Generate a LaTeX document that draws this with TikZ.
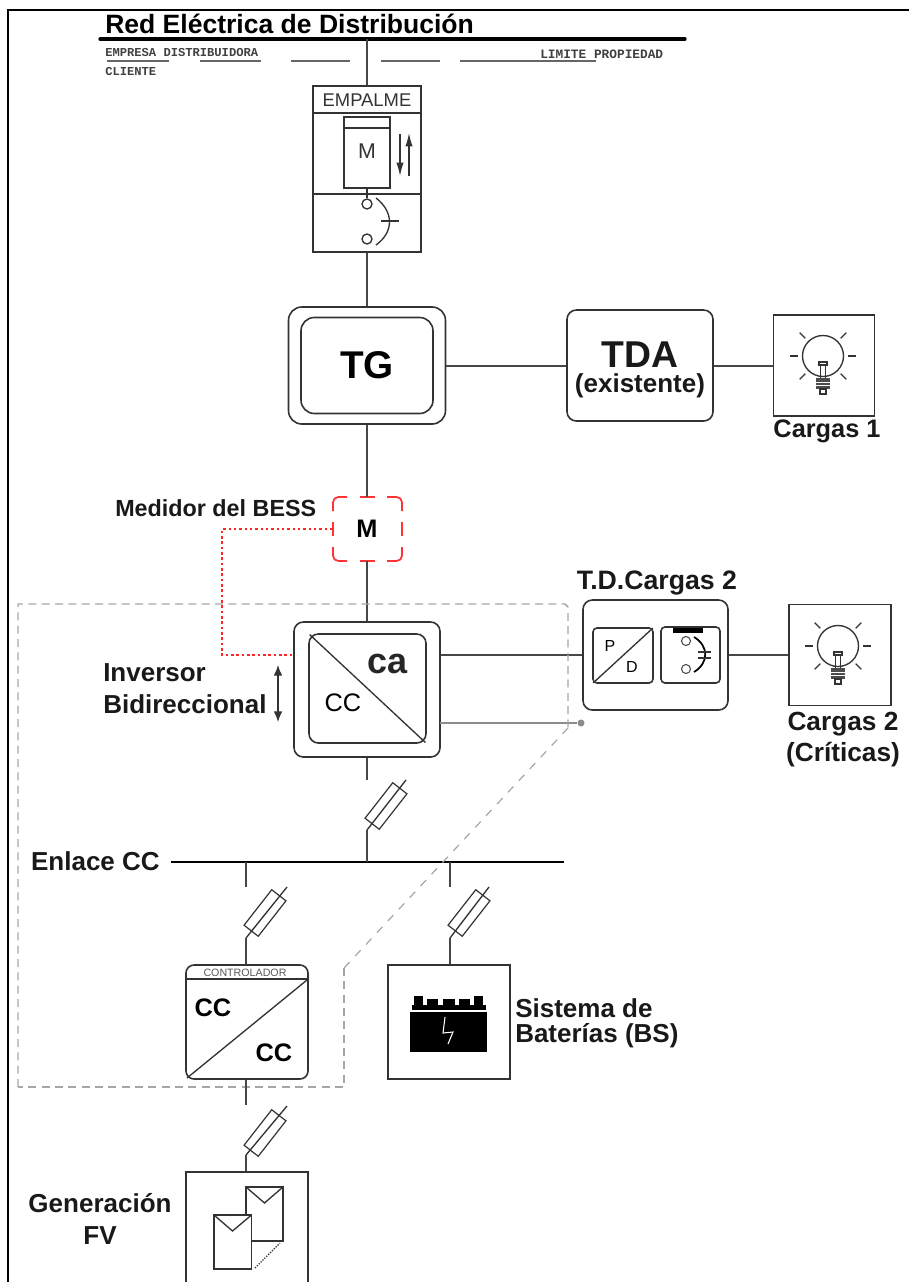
\documentclass[tikz,border=0pt]{standalone}
\usepackage{fontspec}
\setmainfont{Liberation Sans}
\setmonofont{Liberation Mono}
\usetikzlibrary{arrows.meta, calc}
\def\px{0.75pt}

\begin{document}
\begin{tikzpicture}[
    x=0.75pt, y=-0.75pt,
    wire/.style={draw=black!72, line width=1.5pt},
    thinline/.style={draw=black!80, line width=1pt},
    block/.style={rectangle, draw=black!80, line width=1.2pt, fill=white, inner sep=0pt},
    rblock/.style={block, rounded corners=7pt},
    fuseblock/.style={rectangle, draw=black!80, line width=0.9pt, inner sep=0pt, minimum width=45*\px, minimum height=18*\px, rotate=52},
    lab/.style={inner sep=0pt, align=center, font=\bfseries\fontsize{19.5}{24}\selectfont, text=black!90},
    tiny/.style={inner sep=0pt, anchor=west, font=\ttfamily\bfseries\fontsize{9.1}{11}\selectfont, text=black!75},
    under/.style={draw=black!60, line width=1pt},
    reddash/.style={draw=red!80, line width=1.3pt, rounded corners=4pt},
    bulb/.pic={
        \draw[thinline] (0,0) circle (20.5);
        \foreach \a in {0,45,90,135,180,225,-45}
            \draw[thinline] (\a:25) -- (\a:33);
        \draw[thinline, fill=white] (-4,6) rectangle (4,9);
        \draw[thinline] (-2.5,9) -- (-2.5,22) (2.5,9) -- (2.5,22);
        \fill[black!70] (-7,22) rectangle (7,33);
        \draw[white, line width=0.5pt] (-7,26) -- (7,26) (-7,29) -- (7,29);
        \draw[thinline] (-3,33) rectangle (3,38);
    },
]
    \useasboundingbox (0,0) rectangle (909,1282);
    % Frame and grid
    \draw[black, line width=1.5pt] (8,1290) -- (8,10) -- (915,10);
    \coordinate (redTap) at (367,39);
    \draw[black, line width=2.4pt, line cap=round] (100,39) -- (685,39);
    \node[inner sep=0pt, anchor=west, font=\bfseries\fontsize{19.9}{22}\selectfont] (title) at (105,24) {Red Eléctrica de Distribución};
    \node[tiny] (empresa) at (105,52) {EMPRESA DISTRIBUIDORA};
    \node[tiny] (cliente) at (105,71) {CLIENTE};
    \node[tiny, font=\ttfamily\bfseries\fontsize{9.6}{11}\selectfont] (limite) at (540,54) {LIMITE PROPIEDAD};
    \draw[under] (107,61) -- (169,61) (200,61) -- (261,61) (291,61) -- (350,61) (381,61) -- (440,61) (460,61) -- (596,61);

    % Empalme
    \node[block, minimum width=108*\px, minimum height=166*\px] (empalme) at (367,169) {};
    \draw[wire] (redTap) -- (empalme.north);
    \draw[thinline] (313,113) -- (421,113) (313,194) -- (421,194);
    \node[inner sep=0pt, font=\fontsize{13.8}{15}\selectfont, text=black!80] (emplab) at (367,100) {EMPALME};
    \node[block, minimum width=46*\px, minimum height=71*\px] (meter) at (367,152.5) {};
    \draw[thinline] (344,128) -- (390,128);
    \node[inner sep=0pt, font=\fontsize{16}{18}\selectfont, text=black!80] (mlab) at (367,151) {M};
    \draw[thinline, -{Latex[length=10pt,width=5.5pt]}] (400,134) -- (400,176);
    \draw[thinline, -{Latex[length=10pt,width=5.5pt]}] (409,176) -- (409,133);
    \node[circle, draw=black!80, line width=1pt, minimum size=10*\px, inner sep=0pt] (swA) at (367,204) {};
    \node[circle, draw=black!80, line width=1pt, minimum size=10*\px, inner sep=0pt] (swB) at (367,239) {};
    \draw[thinline] (meter.south) -- (swA.north);
    \draw[thinline] (376,198) .. controls (394,212) and (394,232) .. (376,245);
    \draw[thinline] (381,221) -- (399,221);

    % Tableros
    \node[rblock, rounded corners=10pt, minimum width=157*\px, minimum height=117*\px] (tg) at (367,365.5) {};
    \node[rblock, rounded corners=10pt, minimum width=132*\px, minimum height=96*\px, font=\bfseries\fontsize{29}{32}\selectfont] (tgin) at (367,365.5) {TG};
    \node[rblock, minimum width=146*\px, minimum height=111*\px] (tda) at (640,365.5) {};
    \node[lab, font=\bfseries\fontsize{28}{30}\selectfont] (tdalab) at (640,355) {TDA};
    \node[lab, font=\bfseries\fontsize{19.5}{22}\selectfont] (tdasub) at (640,386) {(existente)};
    \node[block, minimum width=101*\px, minimum height=101*\px] (cargas1) at (824,365.5) {};
    \pic at (823,356) {bulb};
    \node[lab, font=\bfseries\fontsize{19}{22}\selectfont] (cargas1lab) at (827,431) {Cargas 1};
    \draw[wire] (empalme.south) -- (tg.north);
    \draw[wire] (tg.east) -- (tda.west);
    \draw[wire] (tda.east) -- (cargas1.west);

    % Medidor
    \node[inner sep=0pt, minimum width=69*\px, minimum height=64*\px, font=\bfseries\fontsize{19}{20}\selectfont] (mbess) at (367,529) {M};
    \draw[reddash] (347,497) -| (333,511);
    \draw[reddash] (387,497) -| (402,511);
    \draw[reddash] (347,561) -| (333,547);
    \draw[reddash] (387,561) -| (402,547);
    \draw[reddash] (360,497) -- (375,497) (360,561) -- (375,561) (333,522) -- (333,536) (402,522) -- (402,536);
    \node[lab, font=\bfseries\fontsize{17.5}{20}\selectfont, anchor=west] (mbesslab) at (115,508) {Medidor del BESS};
    \draw[wire] (tg.south) -- (mbess.north);

    % Inversor
    \node[rblock, minimum width=146*\px, minimum height=135*\px] (inv) at (367,689.5) {};
    \node[rblock, minimum width=117*\px, minimum height=109*\px] (invin) at (367.5,688.5) {};
    \draw[thinline, shorten >=1.5pt, shorten <=1.5pt] (invin.north west) -- (invin.south east);
    \node[inner sep=0pt, font=\bfseries\fontsize{27}{28}\selectfont, text=black!85] (invca) at (388,664) {ca};
    \node[inner sep=0pt, font=\fontsize{19}{20}\selectfont] (invcc) at (343,703) {CC};
    \node[lab, align=left, anchor=west] (invlab) at (103,689) {Inversor\\Bidireccional};
    \draw[thinline, {Latex[length=8pt,width=6.5pt]}-{Latex[length=8pt,width=6.5pt]}] (278,665) -- (278,722);
    \draw[wire] (mbess.south) -- (inv.north);
    \coordinate (invRed) at (294,655);
    \coordinate (redTop) at (222,529);
    \coordinate (redBot) at (222,655);
    \draw[draw=red!85, line width=1.3pt, dash pattern=on 1.8pt off 2.2pt] (mbess.west) -- (redTop) -- (redBot) -- (invRed);

    % T.D. Cargas 2
    \node[rblock, minimum width=145*\px, minimum height=110*\px] (tdc2) at (655.5,655) {};
    \node[lab, font=\bfseries\fontsize{20}{22}\selectfont] (tdc2lab) at (657,583) {T.D.Cargas 2};
    \node[rblock, rounded corners=3pt, minimum width=60*\px, minimum height=55*\px] (pd) at (623,655.5) {};
    \draw[thinline, shorten >=1pt, shorten <=1pt] (pd.south west) -- (pd.north east);
    \node[inner sep=0pt, font=\fontsize{12}{13}\selectfont] (plab) at (610,646) {P};
    \node[inner sep=0pt, font=\fontsize{12}{13}\selectfont] (dlab) at (632,667) {D};
    \node[rblock, rounded corners=3pt, minimum width=59*\px, minimum height=56*\px] (prot) at (690.5,655) {};
    \fill[black] (673,628) rectangle (703,633);
    \node[circle, draw=black!70, line width=0.8pt, minimum size=9*\px, inner sep=0pt] (prA) at (686,641) {};
    \node[circle, draw=black!70, line width=0.8pt, minimum size=9*\px, inner sep=0pt] (prB) at (686,669) {};
    \draw[black, line width=1.3pt] (694,637) .. controls (709,646) and (709,663) .. (694,672);
    \draw[thinline] (698,652) -- (711,652) (698,658) -- (711,658);
    \node[block, minimum width=102*\px, minimum height=101*\px] (cargas2) at (840,655) {};
    \pic at (838,646) {bulb};
    \node[lab, font=\bfseries\fontsize{19.7}{23.5}\selectfont] (cargas2lab) at (843,739.5) {Cargas 2\\(Críticas)};
    \coordinate (invAC) at (inv.east |- tdc2.west);
    \draw[wire] (invAC) -- (tdc2.west);
    \draw[wire] (tdc2.east) -- (cargas2.west);
    \coordinate (invAux) at (440,723);
    \node[circle, fill=black!45, minimum size=7*\px, inner sep=0pt] (auxdot) at (581,723) {};
    \draw[draw=black!45, line width=1pt] (invAux) -- (auxdot);

    % Enlace CC
    \coordinate (busL) at (171,862);
    \coordinate (busR) at (564,862);
    \draw[black, line width=2pt] (busL) -- (busR);
    \node[lab, anchor=east] (enlace) at (160,861) {Enlace CC};
    \coordinate (tapInv) at (367,862);
    \coordinate (tapCtl) at (246,862);
    \coordinate (tapBat) at (450,862);

    % Fusibles
    \coordinate (stubInv) at (367,780);
    \coordinate (elbInv) at (367,830);
    \coordinate (topInv) at (406,780);
    \node[fuseblock] (fuseInv) at (386,806) {};
    \draw[wire] (inv.south) -- (stubInv);
    \draw[wire] (tapInv) -- (elbInv);
    \draw[thinline] (elbInv) -- (topInv);
    \coordinate (stubCtl) at (246,887);
    \coordinate (elbCtl) at (246,938);
    \coordinate (topCtl) at (287,887);
    \node[fuseblock] (fuseCtl) at (265,913) {};
    \draw[wire] (tapCtl) -- (stubCtl);
    \draw[thinline] (elbCtl) -- (topCtl);
    \coordinate (stubBat) at (450,887);
    \coordinate (elbBat) at (450,938);
    \coordinate (topBat) at (489,887);
    \node[fuseblock] (fuseBat) at (469,913) {};
    \draw[wire] (tapBat) -- (stubBat);
    \draw[thinline] (elbBat) -- (topBat);
    \coordinate (stubFv) at (246,1105);
    \coordinate (elbFv) at (246,1155);
    \coordinate (topFv) at (287,1106);
    \node[fuseblock] (fuseFv) at (265,1133) {};
    \draw[thinline] (elbFv) -- (topFv);

    % Contorno BESS
    \draw[draw=black!35, line width=1.1pt, dash pattern=on 6pt off 4pt] (18,1087) -- (18,604) -- (565,604) -- (568,607) -- (568,728);
    \draw[draw=black!35, line width=0.9pt, dash pattern=on 6pt off 6pt] (568,728) -- (344,968);
    \draw[draw=black!35, line width=1.1pt, dash pattern=on 6pt off 4pt] (344,968) -- (344,1087) -- (18,1087);

    % Controlador
    \node[rblock, rounded corners=6pt, fill=none, minimum width=122*\px, minimum height=114*\px] (ctl) at (247,1022) {};
    \draw[thinline] (186,979) -- (308,979);
    \draw[thinline] (187,1078) -- (307,980);
    \node[inner sep=0pt, font=\fontsize{8}{9}\selectfont, text=black!65] (ctllab) at (245,972.5) {CONTROLADOR};
    \node[inner sep=0pt, font=\bfseries\fontsize{19}{20}\selectfont] (ctlA) at (213,1008) {CC};
    \node[inner sep=0pt, font=\bfseries\fontsize{19}{20}\selectfont] (ctlB) at (274,1053) {CC};
    \draw[wire] (elbCtl) -- (ctl.north -| elbCtl);
    \draw[wire] (stubFv) -- (ctl.south -| stubFv);

    % Baterias
    \node[block, minimum width=122*\px, minimum height=114*\px] (bat) at (449,1022) {};
    \draw[wire] (elbBat) -- (bat.north -| elbBat);
    \fill[black] (410,1012) rectangle (487,1052);
    \fill[black] (412,1005) rectangle (486,1009.5);
    \fill[black] (414,996) rectangle (423,1005);
    \fill[black] (427,999) rectangle (438,1005);
    \fill[black] (443,999) rectangle (455,1005);
    \fill[black] (459,999) rectangle (470,1005);
    \fill[black] (474,996) rectangle (483,1005);
    \draw[draw=white, line width=0.8pt] (445,1017) -- (443,1033) -- (453,1032) -- (448,1044);
    \node[lab, align=left, anchor=west, font=\bfseries\fontsize{19.5}{19}\selectfont] (batlab) at (515,1023) {Sistema de\\Baterías (BS)};

    % Generacion FV
    \node[block, minimum width=122*\px, minimum height=130*\px] (fv) at (247,1237) {};
    \draw[wire] (elbFv) -- (fv.north -| elbFv);
    \draw[thinline] (246,1187) rectangle (283,1241);
    \draw[thinline] (246,1187) -- (264.5,1203) -- (283,1187);
    \draw[thinline, fill=white] (214,1215) rectangle (251.5,1269);
    \draw[thinline] (214,1215) -- (232.5,1231) -- (251.5,1215);
    \draw[thinline, densely dotted] (255,1268) -- (280,1243);
    \node[lab] (fvlab) at (100,1219) {Generación\\FV};
\end{tikzpicture}
\end{document}
